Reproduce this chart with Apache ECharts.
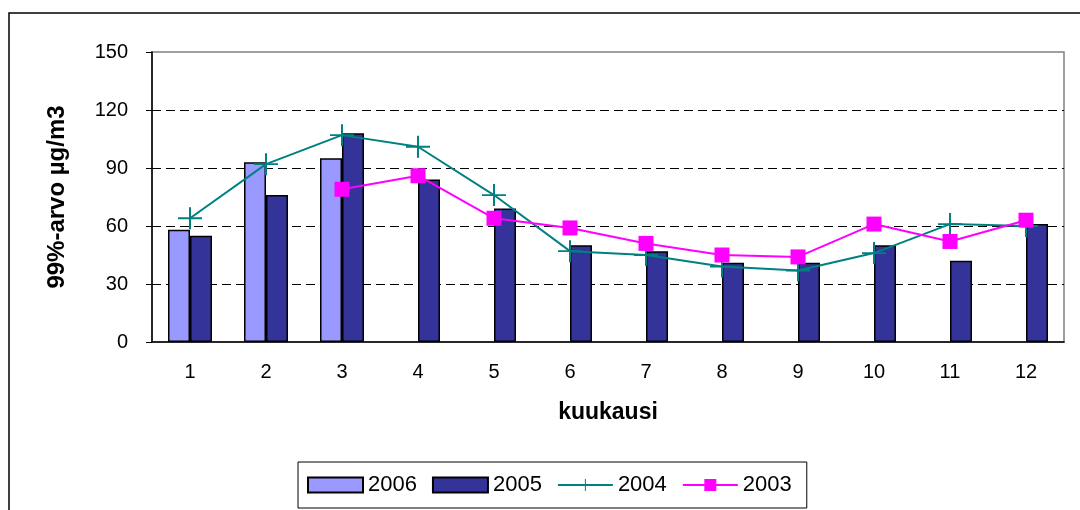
<!DOCTYPE html>
<html>
<head>
<meta charset="utf-8">
<script src="https://cdn.jsdelivr.net/npm/echarts@6/dist/echarts.min.js"></script>
<style>
  html, body { margin: 0; padding: 0; background: #fff; }
  #chart { width: 1080px; height: 510px; }
</style>
</head>
<body>
<div id="chart"></div>
<script>
// kuukaudet
const months = ['1', '2', '3', '4', '5', '6', '7', '8', '9', '10', '11', '12']
// 99%-arvot vuosittain
const v2006 = [58, 93, 95, null, null, null, null, null, null, null, null, null]
const v2005 = [55, 76, 108, 84, 69, 50, 47, 41, 41, 50, 42, 61]
const v2004 = [64, 92, 107, 101, 76, 47, 45, 39, 37, 46, 61, 60]
const v2003 = [null, null, 79, 86, 64, 59, 51, 45, 44, 61, 52, 63]

const font = 'Liberation Sans, Arial, sans-serif'
const plus = 'path://M11,0 H13 V24 H11 Z M0,11 H24 V13 H0 Z'

const chart = echarts.init(document.getElementById('chart'))

chart.setOption({
  animation: false,
  backgroundColor: '#fff',
  textStyle: { fontFamily: font },
  graphic: [
    {
      type: 'rect',
      shape: { x: 9, y: 13, width: 1200, height: 700 },
      style: { fill: 'none', stroke: '#000', lineWidth: 1.5 },
      z: -1
    }
  ],
  grid: {
    left: 152,
    right: 16,
    top: 52,
    bottom: 168,
    show: true,
    borderColor: '#808080',
    borderWidth: 1.5
  },
  legend: {
    left: 298,
    top: 462,
    padding: [12, 15, 12, 9],
    itemGap: 15,
    itemWidth: 55,
    itemHeight: 15,
    borderColor: '#000',
    borderWidth: 1,
    textStyle: { fontSize: 22, color: '#000', fontFamily: font },
    data: [
      { name: '2006', icon: 'rect' },
      { name: '2005', icon: 'rect' },
      { name: '2004' },
      { name: '2003' }
    ]
  },
  xAxis: {
    type: 'category',
    data: months,
    name: 'kuukausi',
    nameLocation: 'middle',
    nameGap: 59,
    nameTextStyle: { fontSize: 23, fontWeight: 'bold', color: '#000', fontFamily: font },
    axisLine: { lineStyle: { color: '#000', width: 1.5 } },
    axisTick: { length: 6, lineStyle: { color: '#000' } },
    axisLabel: { fontSize: 20, color: '#000', margin: 20 }
  },
  yAxis: {
    type: 'value',
    min: 0,
    max: 150,
    interval: 30,
    name: '99%-arvo µg/m3',
    nameLocation: 'middle',
    nameGap: 83,
    nameTextStyle: { fontSize: 24, fontWeight: 'bold', color: '#000', fontFamily: font },
    axisLine: { show: true, lineStyle: { color: '#000', width: 1.5 } },
    axisTick: { show: true, length: 6, lineStyle: { color: '#000' } },
    axisLabel: { fontSize: 20, color: '#000', margin: 24 },
    splitLine: {
      showMinLine: false,
      showMaxLine: false,
      lineStyle: { color: '#000', type: [9, 5], width: 1 }
    }
  },
  series: [
    {
      name: '2006',
      type: 'bar',
      data: v2006,
      barWidth: 22,
      barGap: '0%',
      itemStyle: { color: '#9999FF', borderColor: '#000', borderWidth: 1.5 }
    },
    {
      name: '2005',
      type: 'bar',
      data: v2005,
      barWidth: 22,
      barGap: '0%',
      itemStyle: { color: '#333399', borderColor: '#000', borderWidth: 1.5 }
    },
    {
      name: '2004',
      type: 'line',
      data: v2004,
      symbol: plus,
      symbolSize: [24, 22],
      showAllSymbol: true,
      lineStyle: { color: '#008080', width: 2 },
      itemStyle: { color: '#008080' }
    },
    {
      name: '2003',
      type: 'line',
      data: v2003,
      symbol: 'rect',
      symbolSize: 15,
      showAllSymbol: true,
      lineStyle: { color: '#FF00FF', width: 2 },
      itemStyle: { color: '#FF00FF' }
    }
  ]
})
</script>
</body>
</html>
